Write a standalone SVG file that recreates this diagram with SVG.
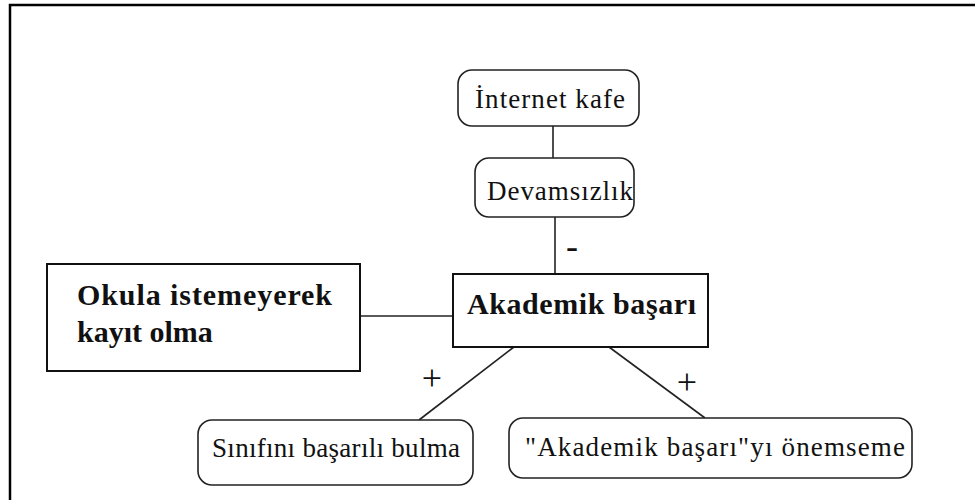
<svg xmlns="http://www.w3.org/2000/svg" width="975" height="500" viewBox="0 0 975 500">
  <style>
    .frame { fill: none; stroke: #000; stroke-width: 2.5; }
    .soft { fill: #fff; stroke: #222; stroke-width: 1.6; }
    .hard { fill: #fff; stroke: #111; stroke-width: 2; }
    .edge { fill: none; stroke: #222; stroke-width: 1.6; }
    .lbl { font-family: "Liberation Serif", "Times New Roman", serif; font-size: 27px; fill: #111; }
    .bold { font-family: "Liberation Serif", "Times New Roman", serif; font-size: 30px; font-weight: bold; fill: #111; }
    .sign { font-family: "Liberation Serif", "Times New Roman", serif; font-size: 36px; fill: #111; text-anchor: middle; }
  </style>
  <rect width="975" height="500" fill="#fff"/>
  <!-- open frame: top and left edges only -->
  <path class="frame" d="M975 5 H10 V500"/>

  <g id="connectors">
    <line class="edge" x1="553" y1="126" x2="553" y2="158"/>
    <line class="edge" x1="555" y1="217" x2="555" y2="274"/>
    <line class="edge" x1="360" y1="316" x2="453" y2="316"/>
    <line class="edge" x1="514" y1="347" x2="419" y2="420"/>
    <line class="edge" x1="609" y1="347" x2="705" y2="418"/>
    <text class="sign" x="572" y="258">-</text>
    <text class="sign" x="432" y="390">+</text>
    <text class="sign" x="687" y="394">+</text>
  </g>

  <g id="internet-kafe">
    <rect class="soft" x="458" y="70" width="181" height="56" rx="14"/>
    <text class="lbl" x="475" y="108" textLength="150" lengthAdjust="spacing">İnternet kafe</text>
  </g>

  <g id="devamsizlik">
    <rect class="soft" x="475" y="158" width="159" height="59" rx="14"/>
    <text class="lbl" x="487" y="200" textLength="146" lengthAdjust="spacing">Devamsızlık</text>
  </g>

  <g id="akademik-basari">
    <rect class="hard" x="453" y="274" width="255" height="73"/>
    <text class="bold" x="467" y="314" textLength="229" lengthAdjust="spacing">Akademik başarı</text>
  </g>

  <g id="okula-istemeyerek">
    <rect class="hard" x="47" y="264" width="313" height="107"/>
    <text class="bold" x="77" y="305" textLength="255" lengthAdjust="spacing">Okula istemeyerek</text>
    <text class="bold" x="77" y="342">kayıt olma</text>
  </g>

  <g id="sinifini-basarili">
    <rect class="soft" x="198" y="420" width="275" height="65" rx="14"/>
    <text class="lbl" x="212" y="457" textLength="248" lengthAdjust="spacing">Sınıfını başarılı bulma</text>
  </g>

  <g id="onemseme">
    <rect class="soft" x="509" y="418" width="403" height="60" rx="14"/>
    <text class="lbl" x="525" y="456" textLength="380" lengthAdjust="spacing">"Akademik başarı"yı önemseme</text>
  </g>
</svg>
